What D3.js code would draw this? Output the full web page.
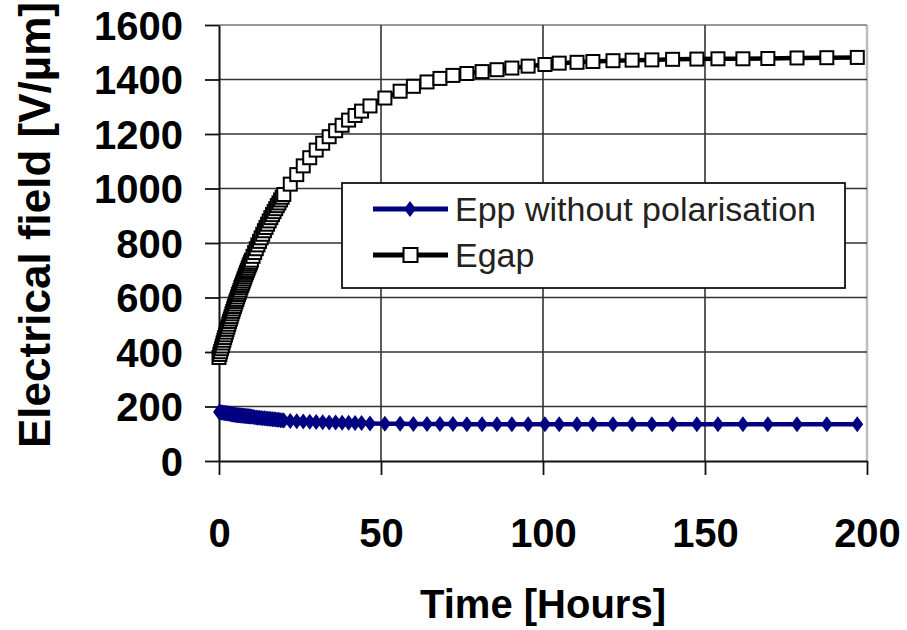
<!DOCTYPE html>
<html>
<head>
<meta charset="utf-8">
<script src="https://cdn.jsdelivr.net/npm/d3@7"></script>
<style>
  body { margin: 0; background: #fff; }
  text { font-family: "Liberation Sans", Arial, sans-serif; }
</style>
</head>
<body>
<div id="chart"></div>
<script>
// time in hours
var times = [0,0.25,0.5,0.75,1,1.25,1.5,1.75,2,2.25,2.5,2.75,3,3.25,3.5,3.75,4,4.25,4.5,4.75,
  5,5.25,5.5,5.75,6,6.25,6.5,6.75,7,7.25,7.5,7.75,8,8.25,8.5,8.75,9,9.25,9.5,9.75,10,
  10.5,11,11.5,12,12.5,13,13.5,14,14.5,15,15.5,16,16.5,17,17.5,18,18.5,19,19.5,20,
  22,24,26,28,30,32,34,36,38,40,42,44,
  46.6,51.2,55.9,60,64.2,68.2,72.2,76.5,81.2,85.8,90.4,95.4,100.6,
  105,110.5,115.4,121.6,127.5,133.6,140,147.5,154,161.7,169.4,178.4,187.6,197];

var egap = [380,391,401,412,422,433,443,453,463,473,483,492,502,512,521,530,540,549,558,567,
  576,585,593,602,611,619,627,636,644,652,660,668,676,684,692,699,707,715,722,729,737,
  751,765,779,793,806,819,832,845,857,869,881,893,904,915,926,937,947,958,968,978,
  1016,1051,1083,1113,1141,1166,1190,1212,1232,1251,1268,1284,
  1303,1332,1357,1375,1391,1404,1415,1422,1429,1436,1442,1449,1455,
  1460,1463,1466,1469,1471,1472,1474,1475,1476,1476,1477,1479,1480,1481];

var epp = [180,180,179,178,178,177,177,176,176,175,175,174,174,173,173,172,172,171,171,170,
  170,169,169,168,168,168,167,167,167,166,166,166,165,165,165,164,164,164,163,163,163,
  162,161,160,159,159,158,157,157,156,155,155,154,153,153,152,151,151,150,150,149,
  147,146,145,144,143,142,141,141,140,140,139,139,
  138,137,137,136,136,136,136,135,135,135,135,135,135,
  135,135,135,135,135,135,135,135,135,135,135,135,135,135];

var xTicks = [0, 50, 100, 150, 200];
var yTicks = [0, 200, 400, 600, 800, 1000, 1200, 1400, 1600];
var seriesNames = ["Epp without polarisation", "Egap"];

var W = 907, H = 630;
var margin = {top: 25, right: 40, bottom: 169, left: 219},
    width = W - margin.left - margin.right,
    height = H - margin.top - margin.bottom;

var svg = d3.select("#chart").append("svg")
    .attr("width", W)
    .attr("height", H);

svg.append("rect").attr("width", W).attr("height", H).attr("fill", "#fff");

var g = svg.append("g")
    .attr("transform", "translate(" + margin.left + "," + margin.top + ")");

var x = d3.scaleLinear().domain([0, 200]).range([0, width]);
var y = d3.scaleLinear().domain([0, 1600]).range([height, 0]);

// plot border (right side is light grey)
g.append("line")
    .attr("x1", width).attr("x2", width)
    .attr("y1", 0).attr("y2", height)
    .style("stroke", "#bdbdbd").style("stroke-width", 2.5);

// horizontal grid
g.selectAll(".hgrid").data(yTicks.filter(function(d) { return d > 0; }))
  .enter().append("line")
    .attr("x1", 0).attr("x2", width)
    .attr("y1", function(d) { return y(d); })
    .attr("y2", function(d) { return y(d); })
    .style("stroke", function(d) { return d == 1600 ? "#777" : "#333"; })
    .style("stroke-width", 1.6);

// vertical grid
g.selectAll(".vgrid").data(xTicks.filter(function(d) { return d > 0 && d < 200; }))
  .enter().append("line")
    .attr("x1", function(d) { return x(d); })
    .attr("x2", function(d) { return x(d); })
    .attr("y1", 0).attr("y2", height)
    .style("stroke", "#333")
    .style("stroke-width", 1.6);

// axes
var yAxis = g.append("g")
    .call(d3.axisLeft(y).tickValues(yTicks).tickFormat(d3.format("d"))
      .tickSize(14).tickSizeOuter(0).tickPadding(22));
var xAxis = g.append("g")
    .attr("transform", "translate(0," + height + ")")
    .call(d3.axisBottom(x).tickValues(xTicks).tickFormat(d3.format("d"))
      .tickSize(14).tickSizeOuter(0).tickPadding(44));

[yAxis, xAxis].forEach(function(a) {
  a.select(".domain").style("stroke", "#111").style("stroke-width", 2);
  a.selectAll(".tick line").style("stroke", "#111").style("stroke-width", 1.8);
  a.selectAll(".tick text")
    .style("font-size", "40px")
    .style("font-weight", "bold")
    .style("fill", "#000")
    .style("font-family", "'Liberation Sans', Arial, sans-serif");
});
yAxis.selectAll(".tick text").attr("dy", "0.36em");
xAxis.selectAll(".tick text").attr("dy", "0.71em");

// axis titles
svg.append("text")
    .attr("transform", "translate(50,448) rotate(-90)")
    .attr("text-anchor", "start")
    .style("font-size", "44px")
    .style("font-weight", "bold")
    .text("Electrical field [V/\u00b5m]");

svg.append("text")
    .attr("x", margin.left + width / 2)
    .attr("y", 618)
    .attr("text-anchor", "middle")
    .style("font-size", "40px")
    .style("font-weight", "bold")
    .text("Time [Hours]");

var navy = "#000080";
var diamond = "M0,-8L6,0L0,8L-6,0Z";

var line = d3.line()
    .x(function(d) { return x(d[0]); })
    .y(function(d) { return y(d[1]); });

var egapPts = times.map(function(t, i) { return [t, egap[i]]; });
var eppPts = times.map(function(t, i) { return [t, epp[i]]; });

// Egap
g.append("path")
    .datum(egapPts)
    .attr("d", line)
    .style("fill", "none")
    .style("stroke", "#000")
    .style("stroke-width", 4.5);

g.selectAll(".sq").data(egapPts)
  .enter().append("rect")
    .attr("x", function(d) { return x(d[0]) - 6.5; })
    .attr("y", function(d) { return y(d[1]) - 6.5; })
    .attr("width", 13).attr("height", 13)
    .style("fill", "#fff")
    .style("stroke", "#000")
    .style("stroke-width", 2);

// Epp
g.append("path")
    .datum(eppPts)
    .attr("d", line)
    .style("fill", "none")
    .style("stroke", navy)
    .style("stroke-width", 4.5);

g.selectAll(".dm").data(eppPts)
  .enter().append("path")
    .attr("d", diamond)
    .attr("transform", function(d) { return "translate(" + x(d[0]) + "," + y(d[1]) + ")"; })
    .style("fill", navy);

// legend
var legend = svg.append("g").attr("transform", "translate(342,183)");
legend.append("rect")
    .attr("width", 503).attr("height", 105)
    .style("fill", "#fff")
    .style("stroke", "#111")
    .style("stroke-width", 1.8);

var rows = legend.selectAll(".row").data(seriesNames)
  .enter().append("g")
    .attr("transform", function(d, i) { return "translate(0," + (26 + i * 46) + ")"; });

rows.append("line")
    .attr("x1", 31).attr("x2", 106)
    .style("stroke", function(d, i) { return i == 0 ? navy : "#000"; })
    .style("stroke-width", 5);

rows.filter(function(d, i) { return i == 0; }).append("path")
    .attr("d", diamond)
    .attr("transform", "translate(68,0)")
    .style("fill", navy);

rows.filter(function(d, i) { return i == 1; }).append("rect")
    .attr("x", 61.5).attr("y", -7).attr("width", 14).attr("height", 14)
    .style("fill", "#fff").style("stroke", "#000").style("stroke-width", 2);

rows.append("text")
    .attr("x", 113)
    .attr("dy", "0.36em")
    .style("font-size", "34px")
    .style("fill", "#222")
    .text(function(d) { return d; });
</script>
</body>
</html>
